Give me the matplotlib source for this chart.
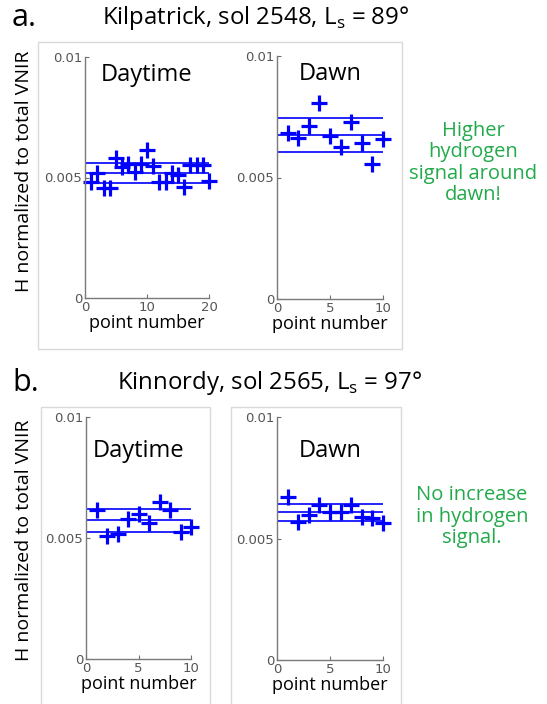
import matplotlib
matplotlib.use("Agg")
import matplotlib.pyplot as plt
from matplotlib.patches import Rectangle

plt.rcParams['font.family'] = ['Open Sans', 'DejaVu Sans']
plt.rcParams['mathtext.fontset'] = 'custom'
plt.rcParams['mathtext.rm'] = 'Open Sans'

# panel a: Kilpatrick, sol 2548
a_day = [0.00483, 0.00517, 0.00455, 0.00455, 0.00580, 0.00545, 0.00556, 0.00524, 0.00556, 0.00614,
         0.00548, 0.00483, 0.00483, 0.00517, 0.00510, 0.00462, 0.00552, 0.00552, 0.00552, 0.00487]
a_day_lines = [0.00478, 0.00520, 0.00561]
a_dawn = [0.00682, 0.00664, 0.00712, 0.00808, 0.00672, 0.00624, 0.00730, 0.00641, 0.00556, 0.00657]
a_dawn_lines = [0.00606, 0.00675, 0.00744]

# panel b: Kinnordy, sol 2565
b_day = [0.00617, 0.00510, 0.00518, 0.00579, 0.00600, 0.00562, 0.00647, 0.00614, 0.00523, 0.00545]
b_day_lines = [0.00525, 0.00573, 0.00620]
b_dawn = [0.00670, 0.00566, 0.00597, 0.00639, 0.00611, 0.00611, 0.00639, 0.00588, 0.00584, 0.00565]
b_dawn_lines = [0.00574, 0.00607, 0.00642]

yticks = [0, 0.005, 0.01]
yticklabels = ['0', '0.005', '0.01']

W, H = 547, 704
fig = plt.figure(figsize=(W / 100, H / 100), dpi=100)

def box(x0, y0, x1, y1):
    # pixel coords from top-left
    r = Rectangle((x0 / W, 1 - y1 / H), (x1 - x0) / W, (y1 - y0) / H, transform=fig.transFigure,
                  fill=False, edgecolor='#d9d9d9', linewidth=1.0)
    fig.patches.append(r)

def panel(px, vals, lines, label, xticks, label_y):
    x0, y0, x1, y1 = px
    ax = fig.add_axes([x0 / W, 1 - y1 / H, (x1 - x0) / W, (y1 - y0) / H])
    n = len(vals)
    xs = list(range(1, n + 1))
    ax.hlines(lines, 0, n, colors='#0000ff', linewidth=1.2)
    ax.plot(xs, vals, '+', color='#0000ff', markersize=11, markeredgewidth=2.3, clip_on=False)
    ax.set_xlim(0, n)
    ax.set_ylim(0, 0.01)
    ax.set_xticks(xticks)
    ax.set_xticklabels([str(t) for t in xticks], family='DejaVu Sans')
    ax.set_yticks(yticks)
    ax.set_yticklabels(yticklabels, family='DejaVu Sans')
    ax.tick_params(direction='in', length=3, width=0.8, colors='#6e6e6e', labelsize=9.5, labelcolor='#555555',
                   pad=2)
    for s in ['top', 'right']:
        ax.spines[s].set_visible(False)
    for s in ['left', 'bottom']:
        ax.spines[s].set_color('#7a7a7a')
        ax.spines[s].set_linewidth(1.0)
    ax.set_xlabel('point number', fontsize=13, labelpad=0)
    ax.text(0.5, label_y, label, transform=ax.transAxes, ha='center', va='center', fontsize=17)
    ax.patch.set_alpha(0)
    return ax

box(38, 42, 402, 349)
box(41, 407, 210, 710)
box(231, 407, 401, 710)

panel((85, 57, 209, 298), a_day, a_day_lines, 'Daytime', [0, 10, 20], 0.925)
panel((277, 56, 383, 299), a_dawn, a_dawn_lines, 'Dawn', [0, 5, 10], 0.925)
panel((86, 417, 191, 659), b_day, b_day_lines, 'Daytime', [0, 5, 10], 0.86)
panel((277, 417, 383, 660), b_dawn, b_dawn_lines, 'Dawn', [0, 5, 10], 0.86)

def ftext(x, y, s, **kw):
    fig.text(x / W, 1 - y / H, s, **kw)

ftext(24, 171, 'H normalized to total VNIR', rotation=90, ha='center', va='center', fontsize=14)
ftext(24, 540, 'H normalized to total VNIR', rotation=90, ha='center', va='center', fontsize=14)

ftext(12, 18, 'a.', ha='left', va='center', fontsize=22)
ftext(256, 18, 'Kilpatrick, sol 2548, L$_\\mathrm{s}$ = 89°', ha='center', va='center', fontsize=17.3)
ftext(12, 383, 'b.', ha='left', va='center', fontsize=22)
ftext(270, 383, 'Kinnordy, sol 2565, L$_\\mathrm{s}$ = 97°', ha='center', va='center', fontsize=17.3)

green = '#22aa4b'
ftext(473, 163, 'Higher\nhydrogen\nsignal around\ndawn!', ha='center', va='center', fontsize=14.5,
      color=green, linespacing=1.1)
ftext(472, 517, 'No increase\nin hydrogen\nsignal.', ha='center', va='center', fontsize=14.5,
      color=green, linespacing=1.1)

fig.savefig('out.png', dpi=100)
